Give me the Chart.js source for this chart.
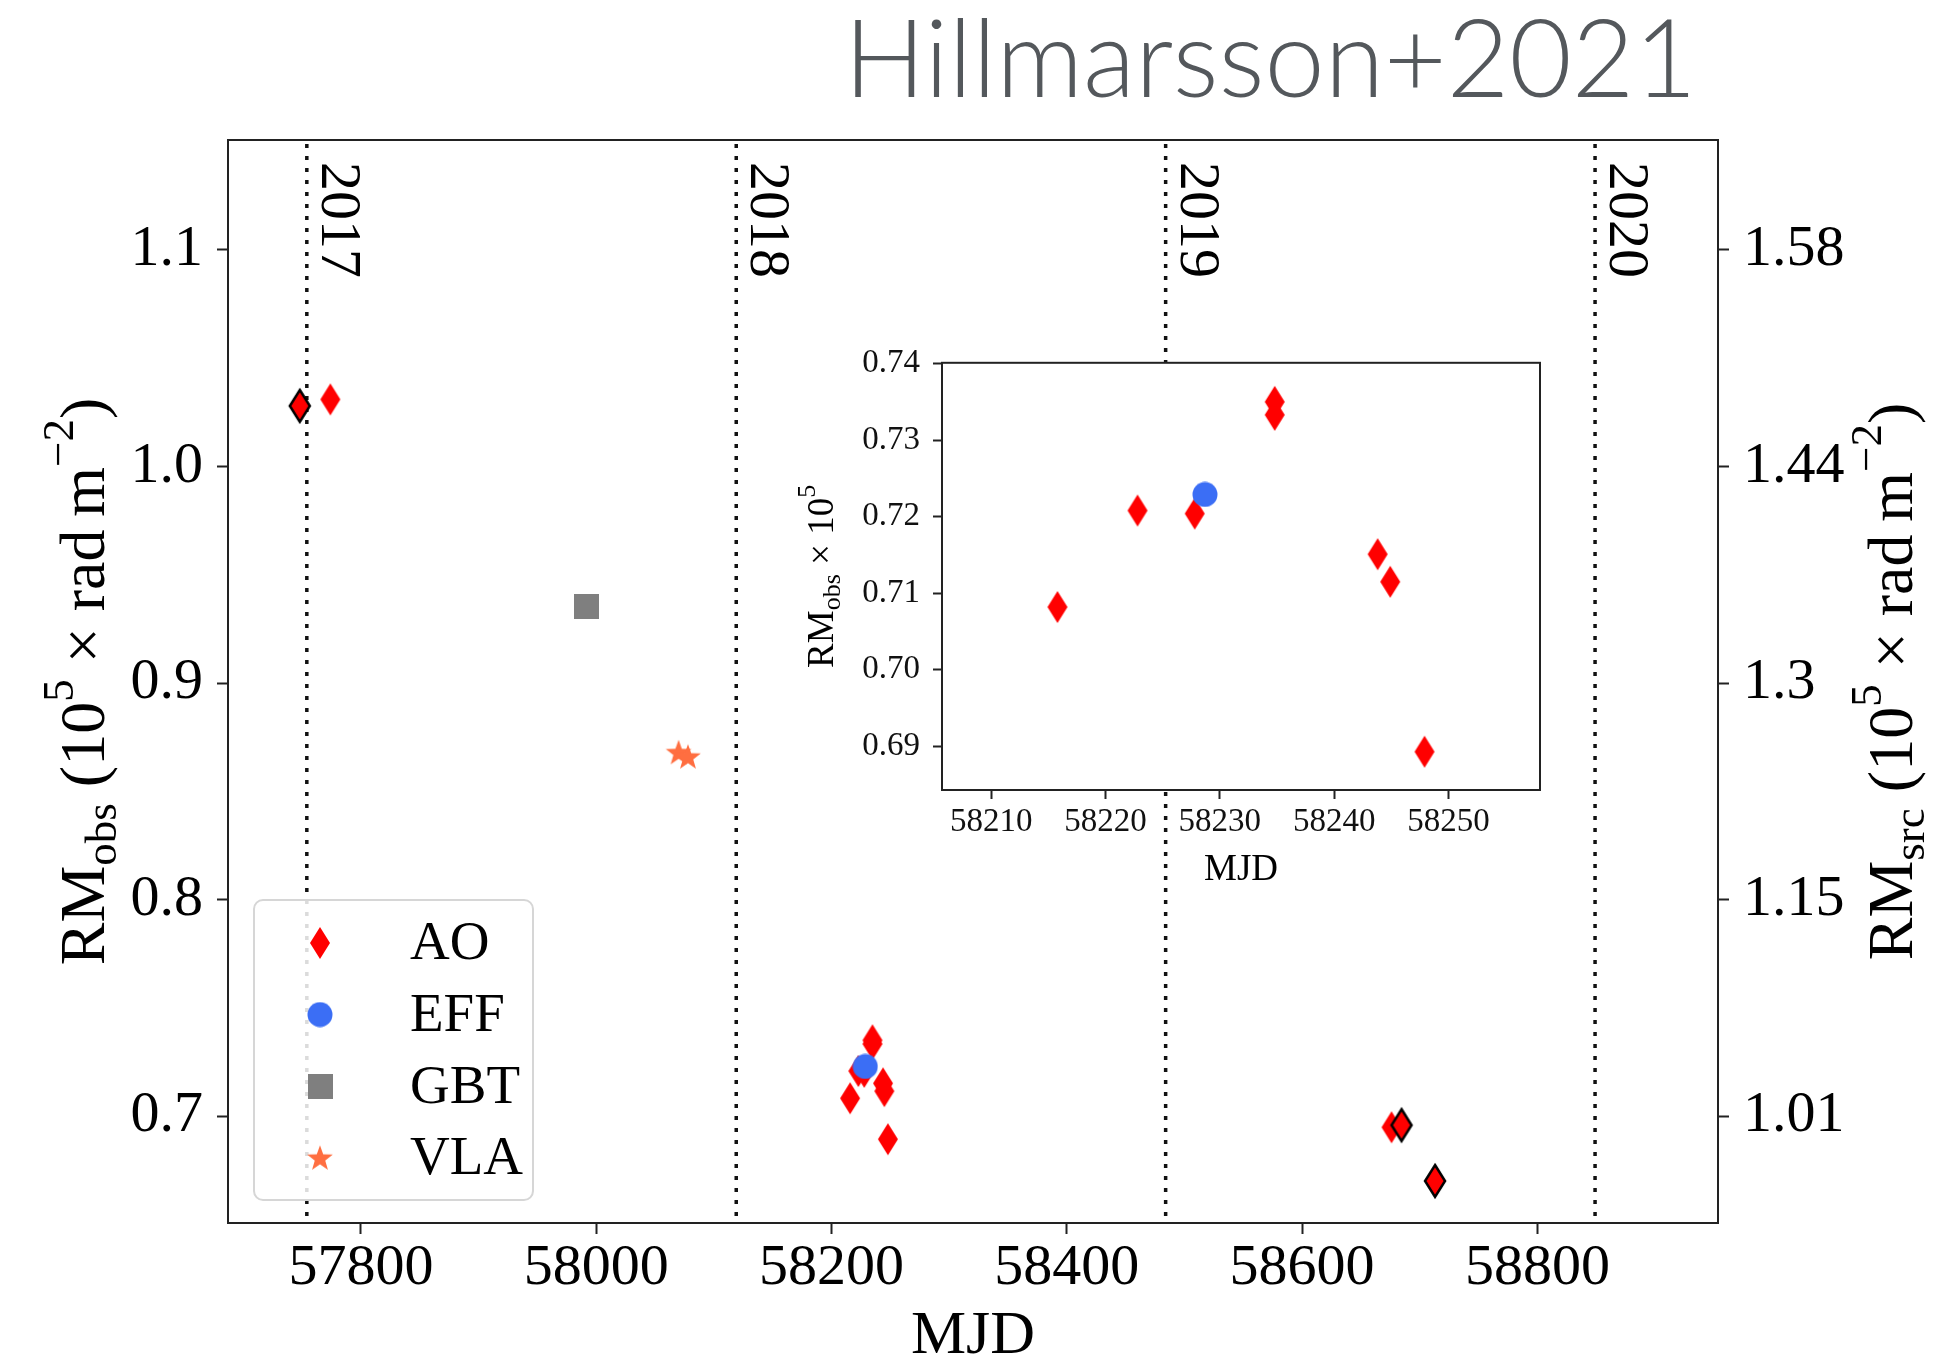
<!DOCTYPE html>
<html>
<head>
<meta charset="utf-8">
<script src="https://cdn.jsdelivr.net/npm/chart.js@4.4.0/dist/chart.umd.min.js"></script>
<style>
  body { margin: 0; background: #fff; }
  #wrap { position: relative; width: 1957px; height: 1360px; overflow: hidden; }
  #main { position: absolute; left: 0; top: 0; }
  #inset { position: absolute; left: 700px; top: 330px; }
  #title { position: absolute; left: 844px; top: 1px; font-family: Lato, "Open Sans", sans-serif; font-weight: 300;
           font-size: 108px; line-height: 1; color: #54585c; white-space: nowrap; transform-origin: left top; }
</style>
</head>
<body>
<div id="wrap">
  <canvas id="main" width="1957" height="1360"></canvas>
  <canvas id="inset" width="870" height="570"></canvas>
  <div id="title">Hillmarsson+2021</div>
</div>
<script>
// observations (MJD, RM_obs in 1e5 rad m^-2)
const aoMjd = [57774, 58215.8, 58222.8, 58227.8, 58234.8, 58234.8, 58243.8, 58244.9, 58247.9, 58676];
const aoRm = [1.031, 0.7082, 0.7208, 0.7204, 0.7350, 0.7333, 0.7151, 0.7115, 0.6893, 0.6948];
const aoEdgeMjd = [57748, 58684.5, 58713];
const aoEdgeRm = [1.028, 0.6958, 0.670];
const effMjd = [58228.7];
const effRm = [0.7229];
const gbtMjd = [57992];
const gbtRm = [0.9355];
const vlaMjd = [58070, 58078];
const vlaRm = [0.868, 0.866];

// year boundaries
const yearNames = ['2017', '2018', '2019', '2020'];
const yearMjd = [57754, 58119, 58484, 58849];

// ticks
const xTicks = [57800, 58000, 58200, 58400, 58600, 58800];
const yTicks = [0.7, 0.8, 0.9, 1.0, 1.1];
const srcTickLabels = ['1.01', '1.15', '1.3', '1.44', '1.58'];
const insetXTicks = [58210, 58220, 58230, 58240, 58250];
const insetYTicks = [0.69, 0.70, 0.71, 0.72, 0.73, 0.74];

const legendNames = ['AO', 'EFF', 'GBT', 'VLA'];

const SERIF = '"Liberation Serif", "Times New Roman", serif';
const RED = '#ff0000', BLUE = '#3b6ef5', GRAY = '#7f7f7f', CORAL = '#ff6e40';

const pts = (xs, ys) => xs.map((x, i) => ({ x: x, y: ys[i] }));

// marker images
function marker(w, h, draw) {
  const c = document.createElement('canvas');
  c.width = w; c.height = h;
  draw(c.getContext('2d'), w, h);
  return c;
}
function diamond(edge) {
  return marker(26, 38, (g, w, h) => {
    g.beginPath();
    g.moveTo(w / 2, 3); g.lineTo(w - 3, h / 2); g.lineTo(w / 2, h - 3); g.lineTo(3, h / 2); g.closePath();
    g.fillStyle = RED; g.fill();
    if (edge) { g.lineWidth = 2.5; g.strokeStyle = '#000'; g.stroke(); }
  });
}
const mkAo = diamond(false);
const mkAoEdge = diamond(true);
const mkEff = marker(26, 26, (g) => { g.beginPath(); g.arc(13, 13, 12.5, 0, Math.PI * 2); g.fillStyle = BLUE; g.fill(); });
const mkGbt = marker(25, 25, (g) => { g.fillStyle = GRAY; g.fillRect(0, 0, 25, 25); });
const mkVla = marker(28, 28, (g) => {
  g.beginPath();
  for (let i = 0; i < 10; i++) {
    const r = i % 2 ? 5.5 : 13.5, a = -Math.PI / 2 + i * Math.PI / 5;
    g.lineTo(14 + r * Math.cos(a), 15 + r * Math.sin(a));
  }
  g.closePath(); g.fillStyle = CORAL; g.fill();
});
const legendMarkers = [mkAo, mkEff, mkGbt, mkVla];

function drawRich(ctx, parts, cx, cy, size, rot) {
  ctx.save();
  ctx.translate(cx, cy);
  ctx.rotate(rot);
  ctx.textBaseline = 'middle';
  ctx.textAlign = 'left';
  ctx.fillStyle = '#000';
  let total = 0;
  parts.forEach(p => {
    ctx.font = Math.round(size * (p.s || 1)) + 'px ' + SERIF;
    p.w = ctx.measureText(p.t).width;
    total += p.w;
  });
  let x = -total / 2;
  parts.forEach(p => {
    ctx.font = Math.round(size * (p.s || 1)) + 'px ' + SERIF;
    ctx.fillText(p.t, x, (p.dy || 0) * size);
    x += p.w;
  });
  ctx.restore();
}

const obsTitle = [{ t: 'RM' }, { t: 'obs', s: 0.7, dy: 0.27 }, { t: ' (10' }, { t: '5', s: 0.7, dy: -0.4 },
  { t: ' \u00d7 rad\u2009m' }, { t: '\u22122', s: 0.7, dy: -0.4 }, { t: ')' }];
const srcTitle = [{ t: 'RM' }, { t: 'src', s: 0.7, dy: 0.27 }, { t: ' (10' }, { t: '5', s: 0.7, dy: -0.4 },
  { t: ' \u00d7 rad\u2009m' }, { t: '\u22122', s: 0.7, dy: -0.4 }, { t: ')' }];
const insetTitle = [{ t: 'RM' }, { t: 'obs', s: 0.7, dy: 0.27 }, { t: ' \u00d7 10' }, { t: '5', s: 0.7, dy: -0.4 }];

const mainDecor = {
  id: 'mainDecor',
  beforeDatasetsDraw(chart) {
    const ctx = chart.ctx, a = chart.chartArea, xs = chart.scales.x;
    ctx.save();
    yearMjd.forEach((m, i) => {
      const x = xs.getPixelForValue(m);
      ctx.beginPath();
      ctx.setLineDash([4, 8]);
      ctx.lineWidth = 3.5;
      ctx.strokeStyle = '#111';
      ctx.moveTo(x, a.top + 4); ctx.lineTo(x, a.bottom);
      ctx.stroke();
      ctx.save();
      ctx.translate(x + 15, a.top + 22);
      ctx.rotate(Math.PI / 2);
      ctx.font = '58px ' + SERIF;
      ctx.fillStyle = '#000';
      ctx.textBaseline = 'alphabetic';
      ctx.fillText(yearNames[i], 0, 0);
      ctx.restore();
    });
    ctx.restore();
  },
  afterDraw(chart) {
    const ctx = chart.ctx, a = chart.chartArea;
    ctx.save();
    ctx.setLineDash([]);
    ctx.lineWidth = 2;
    ctx.strokeStyle = '#222';
    ctx.strokeRect(a.left, a.top, a.right - a.left, a.bottom - a.top);
    // axis titles
    ctx.font = '62px ' + SERIF;
    ctx.fillStyle = '#000';
    ctx.textAlign = 'center';
    ctx.textBaseline = 'alphabetic';
    ctx.fillText('MJD', (a.left + a.right) / 2, 1353);
    const cy = (a.top + a.bottom) / 2;
    drawRich(ctx, obsTitle, 87, cy, 64, -Math.PI / 2);
    drawRich(ctx, srcTitle, 1895, cy, 64, -Math.PI / 2);
    // legend
    ctx.beginPath();
    ctx.roundRect(254, 900, 279, 300, 9);
    ctx.fillStyle = 'rgba(255,255,255,0.85)';
    ctx.fill();
    ctx.lineWidth = 2;
    ctx.strokeStyle = '#d6d6d6';
    ctx.stroke();
    ctx.font = '55px ' + SERIF;
    ctx.fillStyle = '#000';
    ctx.textAlign = 'left';
    ctx.textBaseline = 'middle';
    legendNames.forEach((n, i) => {
      const y = 943 + i * 71.6;
      const m = legendMarkers[i];
      ctx.drawImage(m, 320 - m.width / 2, y - m.height / 2);
      ctx.fillText(n, 410, y + 2);
    });
    ctx.restore();
  }
};

const tickFont = { family: SERIF, size: 58 };
const axisCommon = {
  type: 'linear',
  grid: { display: true, drawOnChartArea: false, drawTicks: true, tickLength: 11, tickWidth: 2, tickColor: '#222' },
  border: { display: true, color: '#222', width: 2 }
};

new Chart(document.getElementById('main'), {
  type: 'scatter',
  data: {
    datasets: [
      { label: 'EFF', data: pts(effMjd, effRm), pointStyle: mkEff, pointRadius: 12 },
      { label: 'AO', data: pts(aoEdgeMjd, aoEdgeRm), pointStyle: mkAoEdge, pointRadius: 12 },
      { label: 'AO', data: pts(aoMjd, aoRm), pointStyle: mkAo, pointRadius: 12 },
      { label: 'GBT', data: pts(gbtMjd, gbtRm), pointStyle: mkGbt, pointRadius: 12 },
      { label: 'VLA', data: pts(vlaMjd, vlaRm), pointStyle: mkVla, pointRadius: 12 }
    ]
  },
  options: {
    responsive: false,
    animation: false,
    events: [],
    layout: { padding: { top: 140, left: 0, right: 0, bottom: 0 } },
    plugins: { legend: { display: false }, tooltip: { enabled: false } },
    scales: {
      x: {
        ...axisCommon, position: 'bottom', min: 57687, max: 58953.5,
        afterBuildTicks: s => { s.ticks = xTicks.map(v => ({ value: v })); },
        afterFit: s => { s.height = 137; },
        ticks: { font: tickFont, color: '#000', padding: 0, maxRotation: 0, autoSkip: false, callback: v => String(v) }
      },
      y: {
        ...axisCommon, position: 'left', min: 0.6506, max: 1.1508,
        afterBuildTicks: s => { s.ticks = yTicks.map(v => ({ value: v })); },
        afterFit: s => { s.width = 228; },
        ticks: { font: tickFont, color: '#000', padding: 14, autoSkip: false, callback: v => v.toFixed(1) }
      },
      y2: {
        ...axisCommon, position: 'right', min: 0.6506, max: 1.1508,
        afterBuildTicks: s => { s.ticks = yTicks.map(v => ({ value: v })); },
        afterFit: s => { s.width = 239; },
        ticks: { font: tickFont, color: '#000', padding: 14, autoSkip: false, callback: (v, i) => srcTickLabels[i] }
      }
    }
  },
  plugins: [mainDecor]
});

// inset: zoom on the 2018 cluster
const inX0 = 58205.7, inX1 = 58258.0;
const inAo = pts(aoMjd, aoRm).filter(p => p.x >= inX0 && p.x <= inX1);

const insetDecor = {
  id: 'insetDecor',
  beforeDraw(chart) {
    const ctx = chart.ctx, a = chart.chartArea;
    ctx.save();
    ctx.fillStyle = '#fff';
    ctx.fillRect(a.left, a.top, a.right - a.left, a.bottom - a.top);
    ctx.restore();
  },
  afterDraw(chart) {
    const ctx = chart.ctx, a = chart.chartArea;
    ctx.save();
    ctx.lineWidth = 2;
    ctx.strokeStyle = '#222';
    ctx.strokeRect(a.left, a.top, a.right - a.left, a.bottom - a.top);
    ctx.font = '37px ' + SERIF;
    ctx.fillStyle = '#000';
    ctx.textAlign = 'center';
    ctx.textBaseline = 'middle';
    ctx.fillText('MJD', (a.left + a.right) / 2, 540);
    drawRich(ctx, insetTitle, 123, (a.top + a.bottom) / 2, 37, -Math.PI / 2);
    ctx.restore();
  }
};

const insetFont = { family: SERIF, size: 33 };
const insetGrid = { display: true, drawOnChartArea: false, drawTicks: true, tickLength: 9, tickWidth: 2, tickColor: '#222' };

new Chart(document.getElementById('inset'), {
  type: 'scatter',
  data: {
    datasets: [
      { label: 'EFF', data: pts(effMjd, effRm), pointStyle: mkEff, pointRadius: 12 },
      { label: 'AO', data: inAo, pointStyle: mkAo, pointRadius: 12 }
    ]
  },
  options: {
    responsive: false,
    animation: false,
    events: [],
    layout: { padding: { top: 27, right: 30, left: 0, bottom: 0 } },
    plugins: { legend: { display: false }, tooltip: { enabled: false } },
    scales: {
      x: {
        type: 'linear', position: 'bottom', min: inX0, max: inX1,
        grid: insetGrid, border: { display: true, color: '#222', width: 2 },
        afterBuildTicks: s => { s.ticks = insetXTicks.map(v => ({ value: v })); },
        afterFit: s => { s.height = 110; },
        ticks: { font: insetFont, color: '#111', padding: 4, maxRotation: 0, autoSkip: false, callback: v => String(v) }
      },
      y: {
        type: 'linear', position: 'left', min: 0.6843, max: 0.7401,
        grid: insetGrid, border: { display: true, color: '#222', width: 2 },
        afterBuildTicks: s => { s.ticks = insetYTicks.map(v => ({ value: v })); },
        afterFit: s => { s.width = 242; },
        ticks: { font: insetFont, color: '#111', padding: 13, autoSkip: false, callback: v => v.toFixed(2) }
      }
    }
  },
  plugins: [insetDecor]
});

// squeeze the header text to the reference width
const title = document.getElementById('title');
title.style.transform = 'scaleX(' + (853 / title.offsetWidth) + ')';
</script>
</body>
</html>
